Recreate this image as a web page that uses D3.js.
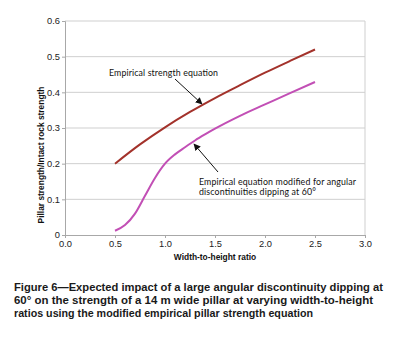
<!DOCTYPE html>
<html><head><meta charset="utf-8">
<script src="https://cdn.jsdelivr.net/npm/d3@7"></script>
<style>body{margin:0;background:#fff}svg{display:block}</style>
</head><body>
<script>
const xTicks = [0.0, 0.5, 1.0, 1.5, 2.0, 2.5, 3.0];
const yTicks = [0, 0.1, 0.2, 0.3, 0.4, 0.5, 0.6];
const empiricalX = [0.5, 0.75, 1.0, 1.25, 1.5, 1.75, 2.0, 2.25, 2.5];
const empiricalY = [0.2, 0.254, 0.302, 0.345, 0.384, 0.42, 0.455, 0.488, 0.52];
const modifiedX = [0.5, 0.6, 0.7, 0.8, 0.9, 1.0, 1.1, 1.2, 1.3, 1.4, 1.5, 1.75, 2.0, 2.25, 2.5];
const modifiedY = [0.012, 0.028, 0.06, 0.11, 0.16, 0.2, 0.226, 0.246, 0.265, 0.282, 0.298, 0.334, 0.366, 0.398, 0.429];
const captionLines = [
  "Figure 6\u2014Expected impact of a large angular discontinuity dipping at",
  "60\u00b0 on the strength of a 14 m wide pillar at varying width-to-height",
  "ratios using the modified empirical pillar strength equation"
];

const W = 400, H = 337;
const svg = d3.select("body").append("svg").attr("width", W).attr("height", H);
const x = d3.scaleLinear().domain([0, 3]).range([65, 365]);
const y = d3.scaleLinear().domain([0, 0.6]).range([235, 21]);

// gridlines
svg.append("g").selectAll("line").data(yTicks.slice(1)).join("line")
  .attr("x1", x(0)).attr("x2", x(3)).attr("y1", d => y(d)).attr("y2", d => y(d))
  .attr("stroke", "#cfcfcf").attr("stroke-width", 1);
// right border
svg.append("line").attr("x1", x(3)).attr("x2", x(3)).attr("y1", y(0.6)).attr("y2", y(0))
  .attr("stroke", "#cfcfcf");

const fontTick = "Liberation Sans, Arial, sans-serif";
const yAxis = svg.append("g").attr("transform", `translate(${x(0)},0)`)
  .call(d3.axisLeft(y).tickValues(yTicks).tickSize(3).tickPadding(2).tickFormat(d => d === 0 ? "0" : d3.format(".1f")(d)));
const xAxis = svg.append("g").attr("transform", `translate(0,${y(0)})`)
  .call(d3.axisBottom(x).tickValues(xTicks).tickSize(3).tickPadding(2).tickFormat(d3.format(".1f")));
[yAxis, xAxis].forEach(g => {
  g.select(".domain").attr("stroke", "#a8a8a8");
  g.selectAll(".tick line").attr("stroke", "#a8a8a8");
  g.selectAll(".tick text").attr("fill", "#222").attr("font-size", 9.3).attr("font-family", fontTick);
});

// axis titles
svg.append("text").attr("transform", `translate(44,155) rotate(-90)`)
  .attr("text-anchor", "middle").attr("font-family", fontTick).attr("font-weight", "bold")
  .attr("font-size", 8.4).attr("fill", "#111").text("Pillar strength/Intact rock strength");
svg.append("text").attr("x", 215).attr("y", 260).attr("text-anchor", "middle")
  .attr("font-family", fontTick).attr("font-weight", "bold").attr("font-size", 8.4)
  .attr("fill", "#111").text("Width-to-height ratio");

// lines
const line = d3.line().x(d => x(d[0])).y(d => y(d[1])).curve(d3.curveMonotoneX);
svg.append("path").datum(empiricalX.map((v, i) => [v, empiricalY[i]]))
  .attr("d", line).attr("fill", "none").attr("stroke", "#a3322b").attr("stroke-width", 2);
svg.append("path").datum(modifiedX.map((v, i) => [v, modifiedY[i]]))
  .attr("d", line).attr("fill", "none").attr("stroke", "#c24fb5").attr("stroke-width", 2);

// annotations
svg.append("defs").append("marker").attr("id", "arr").attr("viewBox", "0 0 10 10")
  .attr("refX", 9).attr("refY", 5).attr("markerWidth", 7).attr("markerHeight", 7)
  .attr("orient", "auto").attr("markerUnits", "userSpaceOnUse")
  .append("path").attr("d", "M0,0 L10,5 L0,10 z").attr("fill", "#111");
const fontAnn = "Lato, 'Open Sans', sans-serif";
svg.append("text").attr("x", 109).attr("y", 76).attr("font-family", fontAnn)
  .attr("font-size", 8.8).attr("fill", "#111").attr("textLength", 109).text("Empirical strength equation");
svg.append("line").attr("x1", 175).attr("y1", 79).attr("x2", 202).attr("y2", 104)
  .attr("stroke", "#111").attr("stroke-width", 1).attr("marker-end", "url(#arr)");
svg.append("text").attr("x", 199).attr("y", 185).attr("font-family", fontAnn)
  .attr("font-size", 8.8).attr("fill", "#111").attr("textLength", 157).text("Empirical equation modified for angular");
svg.append("text").attr("x", 199).attr("y", 195).attr("font-family", fontAnn)
  .attr("font-size", 8.8).attr("fill", "#111").attr("textLength", 117).text("discontinuities dipping at 60\u00b0");
svg.append("line").attr("x1", 218).attr("y1", 172).attr("x2", 194).attr("y2", 144)
  .attr("stroke", "#111").attr("stroke-width", 1).attr("marker-end", "url(#arr)");

// caption
const capW = [369, 359, 299];
svg.append("g").selectAll("text").data(captionLines).join("text")
  .attr("x", 14).attr("y", (d, i) => 291 + i * 13)
  .attr("font-family", fontTick).attr("font-weight", "bold").attr("font-size", 11.5)
  .attr("fill", "#1a1a1a").attr("textLength", (d, i) => capW[i]).attr("lengthAdjust", "spacingAndGlyphs")
  .text(d => d);
</script>
</body></html>
